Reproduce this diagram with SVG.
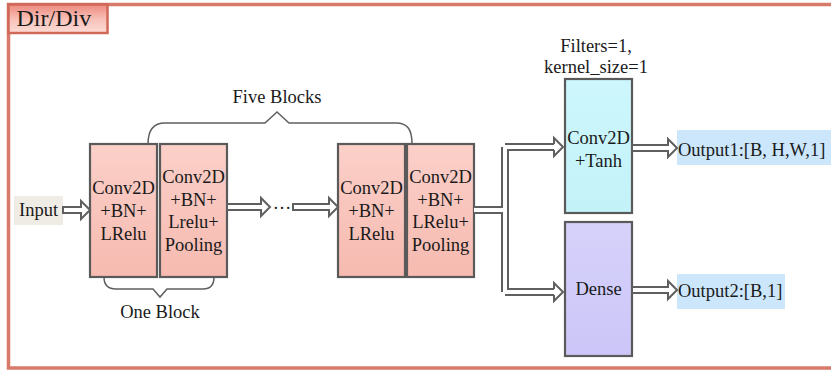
<svg xmlns="http://www.w3.org/2000/svg" width="831" height="375" viewBox="0 0 831 375">
<defs>
<linearGradient id="pink" x1="0" y1="0" x2="0" y2="1"><stop offset="0" stop-color="#fbd0c9"/><stop offset="1" stop-color="#f6bab0"/></linearGradient>
<linearGradient id="tag" x1="0" y1="0" x2="0" y2="1"><stop offset="0" stop-color="#ee8a7e"/><stop offset="0.55" stop-color="#f8c3bb"/><stop offset="1" stop-color="#fcdcd6"/></linearGradient>
<linearGradient id="cyan" x1="0" y1="0" x2="0" y2="1"><stop offset="0" stop-color="#cdf7fc"/><stop offset="1" stop-color="#c3f2f8"/></linearGradient>
<linearGradient id="lav" x1="0" y1="0" x2="0" y2="1"><stop offset="0" stop-color="#d6d2fb"/><stop offset="1" stop-color="#cbc6f7"/></linearGradient>
</defs>
<style>
text{font-family:'Liberation Serif','Times New Roman',serif;font-size:18.5px;fill:#1a1a1a}
.c{text-anchor:middle}
.box{stroke:#5a5a5a;stroke-width:2.2}
.arr{fill:#fff;stroke:#5f5f5f;stroke-width:2;stroke-linejoin:miter}
.brace{fill:none;stroke:#5f5f5f;stroke-width:1.5}
.outer{fill:none;stroke:#5f5f5f;stroke-width:8}
.inner{fill:none;stroke:#fff;stroke-width:4}
</style>
<rect width="831" height="375" fill="#fff"/>
<g id="frame">
<rect x="8.5" y="4.5" width="840" height="363.5" fill="none" stroke="#d87a6a" stroke-width="3.5"/>
<rect x="8.5" y="4.5" width="99" height="28.5" fill="url(#tag)" stroke="#d0685a" stroke-width="2.5"/>
<text x="16.5" y="26" style="font-size:24px">Dir/Div</text>
</g>
<g id="input">
<rect x="14" y="196" width="49" height="29" fill="#efebe5"/>
<text x="19" y="216">Input</text>
</g>
<g id="block1">
<rect class="box" x="90" y="144" width="67" height="133" fill="url(#pink)"/>
<text class="c" x="123.5" y="194">Conv2D</text>
<text class="c" x="123.5" y="217">+BN+</text>
<text class="c" x="123.5" y="240">LRelu</text>
</g>
<g id="block2">
<rect class="box" x="160" y="144" width="67" height="133" fill="url(#pink)"/>
<text class="c" x="193.5" y="183">Conv2D</text>
<text class="c" x="193.5" y="205.5">+BN+</text>
<text class="c" x="193.5" y="228">Lrelu+</text>
<text class="c" x="193.5" y="250.5">Pooling</text>
</g>
<g id="block3">
<rect class="box" x="338" y="144" width="67" height="133" fill="url(#pink)"/>
<text class="c" x="371.5" y="194">Conv2D</text>
<text class="c" x="371.5" y="217">+BN+</text>
<text class="c" x="371.5" y="240">LRelu</text>
</g>
<g id="block4">
<rect class="box" x="407" y="144" width="67" height="133" fill="url(#pink)"/>
<text class="c" x="440.5" y="183">Conv2D</text>
<text class="c" x="440.5" y="205.5">+BN+</text>
<text class="c" x="440.5" y="228">LRelu+</text>
<text class="c" x="440.5" y="250.5">Pooling</text>
</g>
<g id="five-blocks">
<path class="brace" d="M148,144 C148,130 153,123 165,123 H265 L277,112 L289,123 H396 C408,123 412,130 412,144"/>
<text class="c" x="277" y="103">Five Blocks</text>
</g>
<g id="one-block">
<path class="brace" d="M104,277 C104,285 108,289 116,289 H153 L160,297 L167,289 H203 C210,289 214,285 214,277"/>
<text class="c" x="160" y="318">One Block</text>
</g>
<g id="conv-tanh">
<text class="c" x="596" y="52">Filters=1,</text>
<text class="c" x="596" y="73">kernel_size=1</text>
<rect class="box" x="565" y="79" width="67" height="134" fill="url(#cyan)"/>
<text class="c" x="598.5" y="144">Conv2D</text>
<text class="c" x="598.5" y="167">+Tanh</text>
</g>
<g id="dense">
<rect class="box" x="565" y="222" width="67" height="134" fill="url(#lav)"/>
<text class="c" x="598.5" y="295">Dense</text>
</g>
<g id="output1">
<rect x="677" y="130" width="154" height="35" fill="#cce6fb"/>
<text x="678" y="156">Output1:[B, H,W,1]</text>
</g>
<g id="output2">
<rect x="677" y="274" width="108" height="35" fill="#cce6fb"/>
<text x="678" y="297">Output2:[B,1]</text>
</g>
<g id="connectors">
<path class="arr" d="M63,207 H81 V201 L90,210 L81,219 V213 H63 Z"/>
<path class="arr" d="M227,204 H261 V198 L270,207 L261,216 V210 H227 Z"/>
<text class="c" x="282" y="209">…</text>
<path class="arr" d="M293,204 H329 V198 L338,207 L329,216 V210 H293 Z"/>
<path class="outer" d="M474,210 H505 M505,147 V292 M505,147 H555 M505,292 H555"/>
<path class="inner" d="M474,210 H505 M505,147 V292 M505,147 H555 M505,292 H555"/>
<path class="arr" d="M554,144 V138 L563,147 L554,156 V150"/>
<path class="arr" d="M554,289 V283 L563,292 L554,301 V295"/>
<path class="arr" d="M632,145 H668 V139 L677,148 L668,157 V151 H632 Z"/>
<path class="arr" d="M632,287 H668 V281 L677,290 L668,299 V293 H632 Z"/>
</g>
</svg>
